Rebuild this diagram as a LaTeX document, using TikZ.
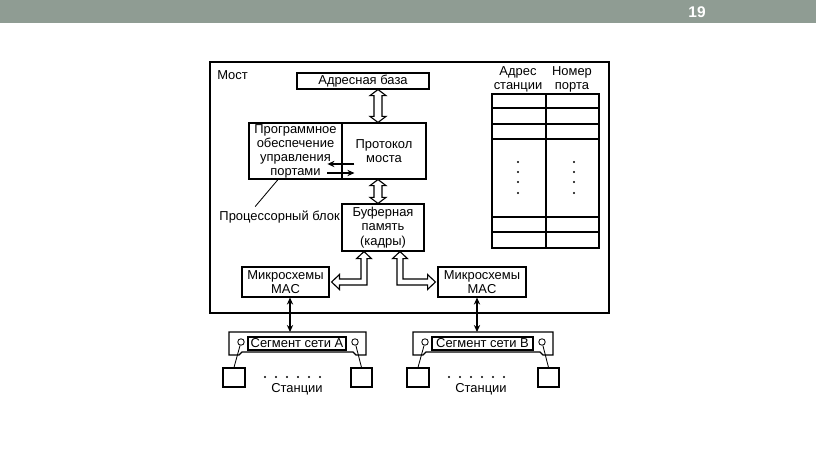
\documentclass[tikz,border=0pt]{standalone}
\usepackage{fontspec}
\setmainfont{Liberation Sans}
\usetikzlibrary{arrows.meta,positioning,calc,fit}
\definecolor{Bar}{HTML}{8F9C93}

\tikzset{
  box/.style={draw, line width=0.8pt, inner sep=0pt},
  txt/.style={font=\fontsize{9.2}{10}\selectfont, align=center},
  link/.style={line width=0.8pt, -{Stealth[length=5pt,width=4.5pt]}},
  both/.style={line width=0.8pt, {Stealth[length=5pt,width=4.5pt]}-{Stealth[length=5pt,width=4.5pt]}},
  hollow/.style={draw, line width=0.8pt, fill=white, line join=miter},
  port/.style={draw, circle, fill=white, inner sep=0pt, minimum size=4.6pt, line width=0.6pt},
}

% hollow two-way arrow, straight down from #1 to the level of #2
\newcommand{\hollowvert}[2]{%
  \draw[hollow] let \p1=(#1), \p2=(#2) in
    (\p1) -- ({\x1+5.7pt},{\y1-4.3pt}) -- ({\x1+2.85pt},{\y1-4.3pt})
    -- ({\x1+2.85pt},{\y2+4.3pt}) -- ({\x1+5.7pt},{\y2+4.3pt})
    -- (\x1,\y2) -- ({\x1-5.7pt},{\y2+4.3pt}) -- ({\x1-2.85pt},{\y2+4.3pt})
    -- ({\x1-2.85pt},{\y1-4.3pt}) -- ({\x1-5.7pt},{\y1-4.3pt}) -- cycle;}

% hollow two-way arrow with a bend: from #1 down, then sideways to #2 (#3 = 1 left, -1 right)
\newcommand{\hollowbend}[3]{%
  \draw[hollow] let \p1=(#1), \p2=(#2) in
    (\p1) -- ({\x1+(#3)*5.3pt},{\y1-5pt}) -- ({\x1+(#3)*2.1pt},{\y1-5pt})
    -- ({\x1+(#3)*2.1pt},{\y2-2.1pt}) -- ({\x2+(#3)*5.6pt},{\y2-2.1pt})
    -- ({\x2+(#3)*5.6pt},{\y2-5.3pt}) -- (\p2) -- ({\x2+(#3)*5.6pt},{\y2+5.3pt})
    -- ({\x2+(#3)*5.6pt},{\y2+2.1pt}) -- ({\x1-(#3)*2.1pt},{\y2+2.1pt})
    -- ({\x1-(#3)*2.1pt},{\y1-5pt}) -- ({\x1-(#3)*5.3pt},{\y1-5pt}) -- cycle;}

% network segment with two stations: name, left x, right x, letter
\newcommand{\netseg}[4]{%
  \draw[line width=0.8pt] (#2,355) -- (#2,332) -- (#3,332) -- (#3,355) -- ({#3-10},355)
    -- ({#3-13},352) -- ({#2+13},352) -- ({#2+10},355) -- cycle;
  \coordinate (#1top) at ({(#2+#3)/2},332);
  \node[box, fill=white, fit={({#2+19},337) ({#3-20},350)}] (#1lab) {};
  \node[txt] (#1name) at (#1lab.center) {Сегмент сети #4};
  \node[port] (#1pl) at ({#2+12},342) {};
  \node[port] (#1pr) at ({#3-11},342) {};
  \node[box, fit={({#2-6},368) ({#2+16},387)}] (#1sl) {};
  \node[box, fit={({#3-15},368) ({#3+6},387)}] (#1sr) {};
  \draw[line width=0.6pt] (#1pl) -- (#1sl.north);
  \draw[line width=0.6pt] (#1pr) -- (#1sr.north);
  \foreach \k in {0,...,5} \fill ({#2+36+11*\k},377) circle (1.1);
  \node[txt] (#1st) at ({#2+68},389) {Станции};}

\begin{document}
\begin{tikzpicture}[x=0.025cm,y=-0.025cm]
  \useasboundingbox (0,0) rectangle (816,457);
  % slide header
  \fill[Bar] (0,0) rectangle (816,23);
  \node[text=white, font=\fontsize{11}{13}\selectfont\bfseries] (pagenum) at (697,12) {19};

  % bridge
  \node[box, fit={(210,62) (609,313)}] (bridge) {};
  \node[txt, anchor=west, inner sep=0pt] (mostlbl) at (217,75) {Мост};
  \node[box, fit={(297,73) (429,89)}] (addr) {};
  \node[box, fit={(249,123) (342,179)}] (soft) {};
  \node[box, fit={(342,123) (426,179)}] (proto) {};
  \node[box, fit={(342,204) (424,251)}] (buf) {};
  \node[box, fit={(242,267) (329,297)}] (macA) {};
  \node[box, fit={(438,267) (526,297)}] (macB) {};
  \node[txt] (addrtxt) at (addr.center) {Адресная база};
  \node[txt] (softtxt) at (soft.center) {Программное\\обеспечение\\управления\\портами};
  \node[txt] (prototxt) at (proto.center) {Протокол\\моста};
  \node[txt, font=\fontsize{9.2}{10.3}\selectfont] (buftxt) at (buf.center) {Буферная\\память\\(кадры)};
  \node[txt] (macAtxt) at (macA.center) {Микросхемы\\MAC};
  \node[txt] (macBtxt) at (macB.center) {Микросхемы\\MAC};
  \node[txt, anchor=east, inner sep=0pt] (cpu) at (340,217) {Процессорный блок};

  \hollowvert{$(addr.south)+(15,0)$}{proto.north}
  \hollowvert{$(proto.south)+(-6,0)$}{buf.north}
  \hollowbend{$(buf.south)+(-19,0)$}{$(macA.east)+(2,0)$}{1}
  \hollowbend{$(buf.south)+(17,0)$}{$(macB.west)+(-2,0)$}{-1}

  % inner exchange
  \coordinate (outR) at ($(proto.west)+(13,13)$);
  \coordinate (inL) at ($(proto.west)+(-14,13)$);
  \coordinate (outL) at ($(proto.west)+(-14,22)$);
  \coordinate (inR) at ($(proto.west)+(13,22)$);
  \draw[link] (outR) -- (inL);
  \draw[link] (outL) -- (inR);
  \coordinate (cpufoot) at ($(soft.south)+(-17.5,0)$);
  \coordinate (cputip) at ($(cpu.north west)+(36,-4)$);
  \draw[line width=0.6pt] (cpufoot) -- (cputip);

  % address table
  \node[box, fit={(492,94) (599,248)}] (tab) {};
  \node[txt] (hadr) at (518,79) {Адрес\\станции};
  \node[txt] (hport) at (572,79) {Номер\\порта};
  \draw[line width=0.8pt] (546,94) -- (546,248);
  \foreach \y in {108,124,139,217,232}
    \draw[line width=0.8pt] (492,\y) -- (599,\y);
  \foreach \y in {162,172,182,193} {
    \fill (518,\y) circle (1.2);
    \fill (574,\y) circle (1.2);
  }

  % segments
  \netseg{segA}{229}{366}{А}
  \netseg{segB}{413}{553}{В}
  \coordinate (pA) at ($(macA.south)+(4.5,0)$);
  \coordinate (pB) at ($(macB.south)+(-5,0)$);
  \draw[both] (pA) -- (pA |- segAtop);
  \draw[both] (pB) -- (pB |- segBtop);
\end{tikzpicture}
\end{document}
